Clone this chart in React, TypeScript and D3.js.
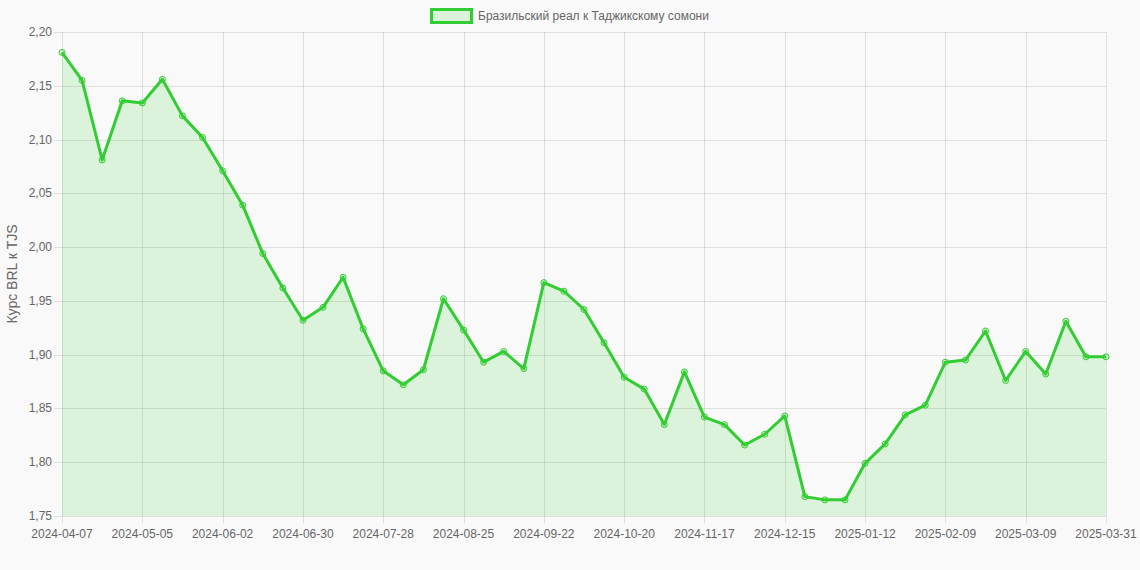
import React from "react";
import * as d3 from "d3";

const dates: string[] = [
  "2024-04-07","2024-04-14","2024-04-21","2024-04-28","2024-05-05","2024-05-12","2024-05-19","2024-05-26",
  "2024-06-02","2024-06-09","2024-06-16","2024-06-23","2024-06-30","2024-07-07","2024-07-14","2024-07-21",
  "2024-07-28","2024-08-04","2024-08-11","2024-08-18","2024-08-25","2024-09-01","2024-09-08","2024-09-15",
  "2024-09-22","2024-09-29","2024-10-06","2024-10-13","2024-10-20","2024-10-27","2024-11-03","2024-11-10",
  "2024-11-17","2024-11-24","2024-12-01","2024-12-08","2024-12-15","2024-12-22","2024-12-29","2025-01-05",
  "2025-01-12","2025-01-19","2025-01-26","2025-02-02","2025-02-09","2025-02-16","2025-02-23","2025-03-02",
  "2025-03-09","2025-03-16","2025-03-23","2025-03-30","2025-03-31",
];

const rates: number[] = [
  2.181, 2.155, 2.081, 2.136, 2.134, 2.156, 2.122, 2.102,
  2.071, 2.039, 1.994, 1.962, 1.932, 1.944, 1.972, 1.924,
  1.885, 1.872, 1.886, 1.952, 1.923, 1.893, 1.903, 1.887,
  1.967, 1.959, 1.942, 1.911, 1.879, 1.868, 1.835, 1.884,
  1.842, 1.835, 1.816, 1.826, 1.843, 1.768, 1.765, 1.765,
  1.799, 1.817, 1.844, 1.853, 1.893, 1.895, 1.922, 1.876,
  1.903, 1.882, 1.931, 1.898, 1.898,
];

const yTicks: number[] = [1.75, 1.8, 1.85, 1.9, 1.95, 2.0, 2.05, 2.1, 2.15, 2.2];
const xTickIdx: number[] = [0, 4, 8, 12, 16, 20, 24, 28, 32, 36, 40, 44, 48, 52];

const seriesLabel = "Бразильский реал к Таджикскому сомони";
const yTitle = "Курс BRL к TJS";

const W = 1140;
const H = 570;
const M = { left: 62, right: 1106, top: 32, bottom: 516 };
const LINE = "rgb(50,205,50)";
const FILL = "rgba(50,205,50,0.15)";
const GRID = "rgba(0,0,0,0.1)";
const TEXT = "#666";
const FONT = "'Liberation Sans', Arial, Helvetica, sans-serif";

export default function App() {
  const x = d3.scaleLinear().domain([0, dates.length - 1]).range([M.left, M.right]);
  const y = d3.scaleLinear().domain([1.75, 2.2]).range([M.bottom, M.top]);
  const fmt = (v: number) => v.toFixed(2).replace(".", ",");

  const line = d3.line<number>().x((_, i) => x(i)).y((d) => y(d));
  const area = d3
    .area<number>()
    .x((_, i) => x(i))
    .y0(M.bottom)
    .y1((d) => y(d));

  return (
    <div style={{ position: "fixed", inset: 0, background: "#f9f9f9" }}>
      <svg width={W} height={H} style={{ position: "absolute", left: 0, top: 0 }} fontFamily={FONT}>
        {/* legend */}
        <rect x={431.5} y={9.5} width={40} height={13} fill={FILL} stroke={LINE} strokeWidth={3} />
        <text x={478} y={19.5} fontSize={12} fill={TEXT}>{seriesLabel}</text>

        {/* horizontal grid */}
        {yTicks.map((t) => (
          <g key={"y" + t}>
            <line x1={M.left - 8} x2={M.right} y1={Math.round(y(t)) + 0.5} y2={Math.round(y(t)) + 0.5} stroke={GRID} />
            <text x={M.left - 10} y={y(t) + 4} fontSize={12} fill={TEXT} textAnchor="end">{fmt(t)}</text>
          </g>
        ))}
        {/* vertical grid */}
        {xTickIdx.map((i) => (
          <g key={"x" + i}>
            <line x1={Math.round(x(i)) + 0.5} x2={Math.round(x(i)) + 0.5} y1={M.top} y2={M.bottom + 7} stroke={GRID} />
            <text x={x(i)} y={538} fontSize={12} fill={TEXT} textAnchor="middle">{dates[i]}</text>
          </g>
        ))}

        <text
          transform={`translate(17,${(M.top + M.bottom) / 2}) rotate(-90)`}
          fontSize={14}
          fill={TEXT}
          textAnchor="middle"
        >
          {yTitle}
        </text>

        <path d={area(rates) || ""} fill={FILL} />
        <path d={line(rates) || ""} fill="none" stroke={LINE} strokeWidth={3} strokeLinejoin="round" />
        {rates.map((v, i) => (
          <circle key={i} cx={x(i)} cy={y(v)} r={3} fill={FILL} stroke={LINE} strokeWidth={1} />
        ))}
      </svg>
    </div>
  );
}
